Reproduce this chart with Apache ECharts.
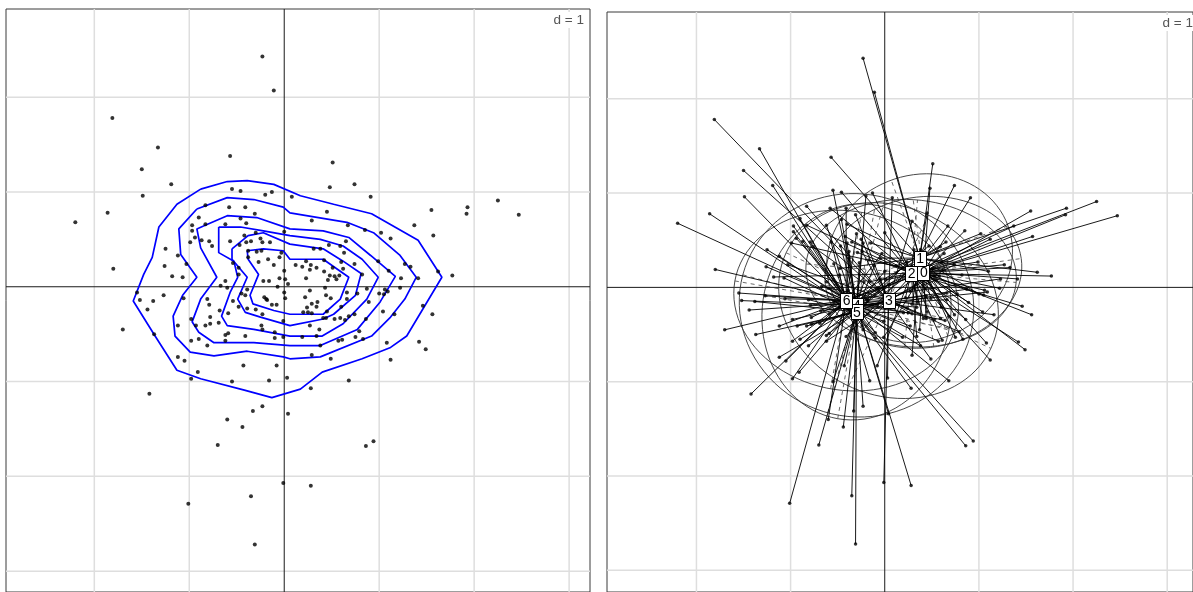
<!DOCTYPE html>
<html>
<head>
<meta charset="utf-8">
<script src="https://cdn.jsdelivr.net/npm/echarts/dist/echarts.min.js"></script>
<style>
  html, body { margin: 0; padding: 0; background: #ffffff; }
  #chart { width: 1193px; height: 592px; }
</style>
</head>
<body>
<div id="chart"></div>
<script>
// Factorial map coordinates of the observations (d = 1 grid units)
const pointX = [
  -0.23,-0.11,-1.81,-1.33,-0.57,-1.50,-1.19,-0.55,-0.46,-0.20,
  -0.13,0.08,-1.49,0.51,0.48,0.74,0.91,-2.20,-1.86,-1.80,
  -1.70,-1.25,-1.26,-1.18,-1.07,-1.27,-1.38,-1.52,-1.55,-1.44,
  -1.37,-1.12,-1.03,-1.06,-0.98,-1.12,-0.93,-0.98,-0.90,-1.12,
  -1.05,-0.91,-0.98,-0.83,-0.90,-0.83,-0.97,-0.97,-0.94,-0.99,
  -0.87,-0.79,-0.76,-0.58,-0.41,-0.46,-0.62,-0.40,-0.31,-0.57,
  -0.47,-0.42,-0.40,-0.35,-0.30,-0.25,-0.23,-0.15,-0.38,-0.38,
  -0.29,-0.27,-0.24,-0.17,-0.11,-0.05,-0.03,0.00,0.00,-0.05,
  0.01,0.04,-0.07,-0.16,-0.22,-0.48,-0.62,-0.67,-0.60,-0.54,
  -0.48,-0.39,-0.45,-0.41,-0.19,-0.18,-0.21,0.00,0.01,-0.13,
  -0.08,-0.54,-0.48,-0.39,-0.30,-0.23,-0.81,-0.79,-0.68,-0.59,
  -0.78,-0.83,-0.78,-0.69,-0.59,-0.62,-0.41,-0.24,-0.23,-0.01,
  -0.10,-0.01,-0.10,-0.62,-0.81,-0.43,-0.08,-0.16,0.03,-0.55,
  1.55,1.93,1.92,2.25,2.47,0.45,0.29,0.67,0.85,1.02,
  1.12,1.37,1.57,0.65,0.47,0.38,0.31,0.59,0.63,0.42,
  0.12,0.19,0.23,0.28,0.27,0.34,0.42,0.51,0.53,0.48,
  0.46,0.55,0.58,0.62,0.23,0.60,0.74,0.82,0.99,1.10,
  1.27,1.33,1.23,1.41,1.62,1.77,1.22,0.87,1.06,1.00,
  1.05,1.09,0.43,0.27,0.66,0.77,0.44,0.49,0.22,0.66,
  0.89,0.29,0.34,0.35,0.24,0.60,1.46,1.56,0.20,0.25,
  0.29,0.45,0.41,0.44,0.53,0.59,0.64,0.68,0.74,0.86,
  1.04,1.16,0.27,0.37,0.19,0.34,0.75,0.83,0.79,0.57,
  0.61,0.38,1.08,1.42,1.49,0.29,0.49,1.12,0.68,0.28,
  -1.42,-0.33,-0.23,0.04,-0.60,-0.44,-0.70,0.86,0.94,-0.01,
  0.28,-0.35,-1.01,-0.31
];
const pointY = [
  2.43,2.07,1.78,1.47,1.38,1.24,1.08,1.03,1.01,0.97,
  1.00,0.95,0.96,1.31,1.05,1.08,0.95,0.68,0.78,0.19,
  -0.45,0.40,0.22,0.11,0.10,-0.09,-0.15,-0.14,-0.06,-0.24,
  -0.50,0.33,0.24,-0.12,-0.34,-0.41,-0.41,-0.57,-0.55,-0.74,
  -0.78,-0.90,-0.97,0.86,0.73,0.66,0.65,0.59,0.52,0.47,
  0.49,0.48,0.43,0.84,0.84,0.72,0.66,0.67,0.77,0.48,
  0.44,0.54,0.47,0.48,0.57,0.51,0.47,0.47,0.38,0.31,
  0.37,0.26,0.38,0.29,0.23,0.31,0.36,0.58,0.17,0.09,
  0.08,0.03,0.00,0.06,0.06,0.13,0.06,0.01,-0.01,0.25,
  0.20,-0.03,-0.07,-0.09,-0.13,-0.14,-0.11,-0.06,-0.12,-0.19,
  -0.19,-0.15,-0.21,-0.23,-0.24,-0.29,-0.13,-0.19,-0.25,-0.28,
  -0.32,-0.41,-0.39,-0.38,-0.49,-0.51,-0.52,-0.41,-0.45,-0.36,
  -0.48,-0.53,-0.54,-0.57,-0.62,-0.83,-0.83,-0.99,-0.96,-1.00,
  0.81,0.84,0.77,0.91,0.76,0.79,0.70,0.65,0.60,0.57,
  0.51,0.65,0.54,0.48,0.44,0.40,0.40,0.43,0.36,0.28,
  0.23,0.21,0.27,0.23,0.18,0.20,0.16,0.20,0.11,0.12,
  0.07,0.08,0.12,0.19,0.09,0.26,0.24,0.13,0.27,0.17,
  0.24,0.21,0.09,0.09,0.16,0.12,-0.01,-0.02,-0.03,-0.07,
  -0.08,-0.05,-0.01,-0.04,-0.06,-0.07,-0.09,-0.12,-0.11,-0.13,
  -0.16,-0.18,-0.21,-0.16,-0.22,-0.21,-0.20,-0.29,-0.27,-0.27,
  -0.28,-0.26,-0.33,-0.33,-0.34,-0.33,-0.35,-0.31,-0.29,-0.34,
  -0.26,-0.29,-0.41,-0.45,-0.53,-0.52,-0.53,-0.55,-0.47,-0.57,
  -0.56,-0.62,-0.59,-0.58,-0.66,-0.72,-0.76,-0.77,-0.99,-1.07,
  -1.13,-1.31,-1.26,-1.34,-1.40,-1.48,-1.67,-1.68,-1.63,-2.07,
  -2.10,-2.21,-2.29,-2.72
];
// Class (factor level) of each observation
const pointGroup = [
  1,0,3,6,1,3,6,4,2,5,
  2,3,6,1,0,2,0,6,5,6,
  6,4,6,2,5,6,5,4,6,3,
  5,6,3,6,4,6,5,6,2,5,
  6,4,6,3,6,2,5,6,4,0,
  6,5,3,2,6,4,5,1,3,6,
  4,2,5,0,6,3,4,1,5,6,
  2,4,3,0,5,1,6,2,4,3,
  0,5,6,2,4,6,5,3,4,6,
  1,5,6,4,3,5,6,2,3,4,
  0,6,5,3,4,6,5,6,4,2,
  6,5,3,6,4,5,1,6,3,5,
  4,0,6,3,4,5,2,6,3,5,
  0,1,0,2,0,1,3,2,0,1,
  0,2,0,1,4,0,2,6,0,3,
  1,5,2,0,4,1,6,2,0,3,
  1,5,2,0,6,1,3,0,2,1,
  0,2,6,0,1,2,0,3,2,1,
  0,4,2,0,5,1,3,0,2,4,
  0,1,6,2,3,0,2,0,5,4,
  3,1,2,0,3,2,6,0,1,2,
  0,3,4,0,5,2,1,0,3,4,
  2,6,0,2,0,1,3,2,4,6,
  6,5,5,4,6,5,5,6,6,3,
  4,5,6,5
];

// Class labels, centres of gravity and 1.5-sd ellipses
const groupNames   = ['0', '1', '2', '3', '4', '5', '6'];
const groupCenterX = [0.41, 0.37, 0.28, 0.04, -0.30, -0.30, -0.41];
const groupCenterY = [0.16, 0.31, 0.15, -0.14, -0.19, -0.26, -0.14];
const ellipseA     = [1.05, 1.00, 1.12, 1.20, 1.25, 1.15, 1.20];
const ellipseB     = [0.80, 0.88, 0.78, 1.00, 1.18, 1.00, 0.95];
const ellipseAngle = [8, 20, -5, -25, -15, 80, -10];

// Kernel density contour lines, outermost first
const densityContours = [
  [[-0.88,1.03],[-0.60,1.11],[-0.39,1.12],[-0.11,1.08],[0.17,0.96],[0.52,0.87],[0.92,0.77],[1.41,0.49],[1.66,0.10],[1.29,-0.52],[1.12,-0.64],[0.82,-0.76],[0.40,-0.90],[0.17,-1.08],[-0.13,-1.17],[-0.42,-1.09],[-0.88,-0.97],[-1.13,-0.88],[-1.36,-0.52],[-1.59,-0.15],[-1.48,0.13],[-1.39,0.31],[-1.32,0.63],[-1.13,0.87],[-0.88,1.03]],
  [[-0.92,0.82],[-0.60,0.94],[-0.32,0.92],[-0.01,0.84],[0.06,0.78],[0.66,0.68],[0.94,0.57],[1.22,0.33],[1.39,0.10],[1.27,-0.13],[1.12,-0.32],[0.92,-0.52],[0.38,-0.74],[0.06,-0.76],[-0.01,-0.74],[-0.39,-0.68],[-0.74,-0.73],[-0.99,-0.69],[-1.15,-0.52],[-1.17,-0.31],[-1.07,-0.09],[-0.92,0.10],[-1.09,0.34],[-1.11,0.61],[-0.92,0.82]],
  [[-0.85,0.64],[-0.60,0.75],[-0.29,0.73],[0.06,0.61],[0.41,0.59],[0.68,0.52],[0.91,0.33],[1.17,0.11],[1.01,-0.16],[0.77,-0.45],[0.38,-0.62],[0.06,-0.62],[-0.32,-0.59],[-0.74,-0.59],[-0.90,-0.48],[-0.97,-0.37],[-0.88,-0.13],[-0.71,0.10],[-0.88,0.41],[-0.92,0.61],[-0.85,0.64]],
  [[-0.69,0.63],[-0.46,0.63],[-0.22,0.59],[0.06,0.54],[0.38,0.50],[0.62,0.43],[0.82,0.29],[0.99,0.10],[0.87,-0.13],[0.62,-0.39],[0.40,-0.52],[0.06,-0.52],[-0.32,-0.45],[-0.60,-0.41],[-0.66,-0.31],[-0.57,-0.06],[-0.49,0.10],[-0.53,0.27],[-0.69,0.36],[-0.69,0.63]],
  [[-0.55,0.40],[-0.38,0.54],[-0.22,0.57],[0.06,0.45],[0.41,0.40],[0.62,0.27],[0.81,0.14],[0.75,-0.09],[0.52,-0.29],[0.41,-0.34],[0.06,-0.41],[-0.25,-0.32],[-0.41,-0.27],[-0.49,-0.13],[-0.39,0.10],[-0.55,0.29],[-0.55,0.40]],
  [[-0.39,0.38],[-0.22,0.40],[-0.01,0.38],[0.06,0.29],[0.41,0.29],[0.68,0.10],[0.59,-0.13],[0.41,-0.29],[0.06,-0.29],[-0.11,-0.25],[-0.33,-0.18],[-0.36,-0.09],[-0.27,0.13],[-0.38,0.29],[-0.39,0.38]]
];

// Grid values drawn as reference lines (d = 1)
const gridValues = [-3, -2, -1, 1, 2, 3, 0];

const FONT = '"Liberation Sans", Arial, sans-serif';

const points = pointX.map((x, i) => [x, pointY[i]]);
const starData = pointX.map((x, i) => [x, pointY[i], pointGroup[i]]);
const ellipseData = groupNames.map((n, g) => [groupCenterX[g], groupCenterY[g], ellipseA[g], ellipseB[g], ellipseAngle[g]]);
const labelData = groupNames.map((n, g) => [groupCenterX[g], groupCenterY[g], g]);

function renderGrid(params, api) {
  const cs = params.coordSys;
  const v = api.value(0);
  const p = api.coord([v, v]);
  const isAxis = v === 0;
  const style = isAxis ? { stroke: '#1a1a1a', lineWidth: 1 } : { stroke: '#dedede', lineWidth: 1.5 };
  const children = [];
  if (p[0] > cs.x + 1 && p[0] < cs.x + cs.width - 1) {
    children.push({ type: 'line', shape: { x1: p[0], y1: cs.y, x2: p[0], y2: cs.y + cs.height }, style: style });
  }
  if (p[1] > cs.y + 1 && p[1] < cs.y + cs.height - 1) {
    children.push({ type: 'line', shape: { x1: cs.x, y1: p[1], x2: cs.x + cs.width, y2: p[1] }, style: style });
  }
  return { type: 'group', children: children };
}

function renderStar(params, api) {
  const g = api.value(2);
  const p = api.coord([api.value(0), api.value(1)]);
  const c = api.coord([groupCenterX[g], groupCenterY[g]]);
  return { type: 'line', shape: { x1: p[0], y1: p[1], x2: c[0], y2: c[1] }, style: { stroke: '#000', lineWidth: 0.9 } };
}

function renderEllipse(params, api) {
  const cx = api.value(0), cy = api.value(1), a = api.value(2), b = api.value(3);
  const t = api.value(4) * Math.PI / 180;
  const ct = Math.cos(t), st = Math.sin(t);
  const pts = [];
  for (let k = 0; k <= 90; k++) {
    const u = k / 90 * 2 * Math.PI;
    const ex = a * Math.cos(u), ey = b * Math.sin(u);
    pts.push(api.coord([cx + ex * ct - ey * st, cy + ex * st + ey * ct]));
  }
  const m1 = api.coord([cx - a * ct, cy - a * st]);
  const m2 = api.coord([cx + a * ct, cy + a * st]);
  const n1 = api.coord([cx + b * st, cy - b * ct]);
  const n2 = api.coord([cx - b * st, cy + b * ct]);
  const dash = { stroke: '#444', lineWidth: 0.8, lineDash: [4, 4], fill: null };
  return {
    type: 'group',
    children: [
      { type: 'polyline', shape: { points: pts }, style: { stroke: '#333', lineWidth: 0.9, fill: null } },
      { type: 'line', shape: { x1: m1[0], y1: m1[1], x2: m2[0], y2: m2[1] }, style: dash },
      { type: 'line', shape: { x1: n1[0], y1: n1[1], x2: n2[0], y2: n2[1] }, style: dash }
    ]
  };
}

// Boxed class name at each centre of gravity
function renderLabel(params, api) {
  const c = api.coord([api.value(0), api.value(1)]);
  const name = groupNames[api.value(2)];
  const w = 12, h = 15;
  return {
    type: 'group',
    children: [
      { type: 'rect', shape: { x: Math.round(c[0] - w / 2) + 0.5, y: Math.round(c[1] - h / 2) + 0.5, width: w, height: h },
        style: { fill: '#ffffff', stroke: '#000000', lineWidth: 1 } },
      { type: 'text', style: { text: name, x: c[0] + 0.5, y: c[1] + 1, align: 'center', verticalAlign: 'middle',
        font: '14px ' + FONT, fill: '#000000' } }
    ]
  };
}

const chart = echarts.init(document.getElementById('chart'), null, { renderer: 'canvas' });

const contourSeries = densityContours.map((c, i) => ({
  name: 'contour' + i,
  type: 'line',
  xAxisIndex: 0, yAxisIndex: 0,
  data: c,
  showSymbol: false,
  symbol: 'none',
  smooth: false,
  silent: true,
  z: 3,
  lineStyle: { color: '#0000ff', width: 1.7 }
}));

const option = {
  animation: false,
  backgroundColor: '#ffffff',
  grid: [
    { left: 6, top: 9, width: 584, height: 584, show: true, borderColor: '#3a3a3a', borderWidth: 1, backgroundColor: '#ffffff' },
    { left: 607, top: 12, width: 591, height: 584, show: true, borderColor: '#3a3a3a', borderWidth: 1, backgroundColor: '#ffffff' }
  ],
  xAxis: [
    { type: 'value', gridIndex: 0, min: -2.93, max: 3.22, show: false },
    { type: 'value', gridIndex: 1, min: -2.95, max: 3.274, show: false }
  ],
  yAxis: [
    { type: 'value', gridIndex: 0, min: -3.22, max: 2.93, show: false },
    { type: 'value', gridIndex: 1, min: -3.23, max: 2.92, show: false }
  ],
  graphic: [
    { type: 'text', x: 586, y: 12, z: 100,
      style: { text: 'd = 1', align: 'right', textAlign: 'right', verticalAlign: 'top', font: '13.5px ' + FONT, fill: '#555', backgroundColor: '#fff', padding: [1, 2] } },
    { type: 'text', x: 1195, y: 15, z: 100,
      style: { text: 'd = 1', align: 'right', textAlign: 'right', verticalAlign: 'top', font: '13.5px ' + FONT, fill: '#555', backgroundColor: '#fff', padding: [1, 2] } }
  ],
  series: [
    { type: 'custom', xAxisIndex: 0, yAxisIndex: 0, data: gridValues.map(v => [v, v]), renderItem: renderGrid, silent: true, z: 1 },
    { type: 'custom', xAxisIndex: 1, yAxisIndex: 1, data: gridValues.map(v => [v, v]), renderItem: renderGrid, silent: true, z: 1 },
    ...contourSeries,
    { type: 'scatter', xAxisIndex: 0, yAxisIndex: 0, data: points, symbolSize: 4, itemStyle: { color: '#000' }, silent: true, z: 4 },
    { type: 'custom', xAxisIndex: 1, yAxisIndex: 1, data: ellipseData, renderItem: renderEllipse, silent: true, z: 2 },
    { type: 'custom', xAxisIndex: 1, yAxisIndex: 1, data: starData, renderItem: renderStar, silent: true, z: 3 },
    { type: 'scatter', xAxisIndex: 1, yAxisIndex: 1, data: points, symbolSize: 3.5, itemStyle: { color: '#000' }, silent: true, z: 4 },
    { type: 'custom', xAxisIndex: 1, yAxisIndex: 1, data: labelData, renderItem: renderLabel, silent: true, z: 6 }
  ]
};

chart.setOption(option);
</script>
</body>
</html>
